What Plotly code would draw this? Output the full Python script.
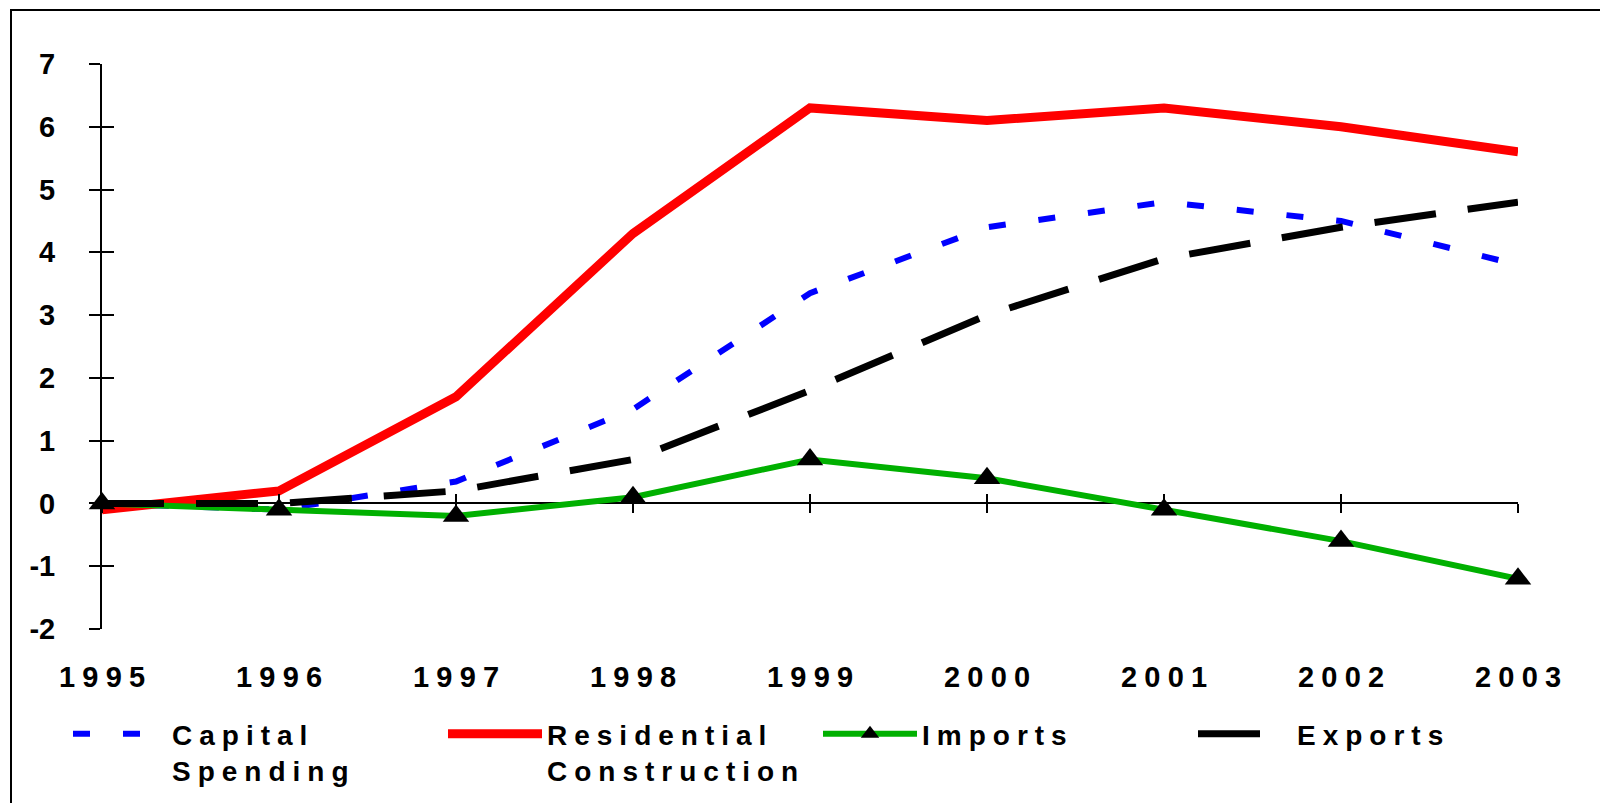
import plotly.graph_objects as go

# ---------------- data ----------------
years = [1995, 1996, 1997, 1998, 1999, 2000, 2001, 2002, 2003]
year_labels = ["1995", "1996", "1997", "1998", "1999", "2000", "2001", "2002", "2003"]
capital_spending = [0.0, -0.1, 0.35, 1.5, 3.35, 4.4, 4.8, 4.5, 3.8]
residential_construction = [-0.1, 0.2, 1.7, 4.3, 6.3, 6.1, 6.3, 6.0, 5.6]
imports = [0.0, -0.1, -0.2, 0.1, 0.7, 0.4, -0.1, -0.6, -1.2]
exports = [0.0, 0.0, 0.2, 0.7, 1.8, 3.0, 3.9, 4.4, 4.8]
y_tick_values = [-2, -1, 0, 1, 2, 3, 4, 5, 6, 7]
y_tick_labels = ["-2", "-1", "0", "1", "2", "3", "4", "5", "6", "7"]
series_names = [["Capital", "Spending"], ["Residential", "Construction"], ["Imports"], ["Exports"]]

# ---------------- styling helpers ----------------
SP = "\u2005"  # letter spacing


def spaced(word, sep=SP):
    return sep.join(list(word))


def spaced_lines(lines):
    return "<br>".join(spaced(w) for w in lines)


FONT = "Liberation Sans, Arial, sans-serif"
W, H = 1600, 803
ML, MR, MT, MB = 102, 82, 64, 174
PW, PH = W - ML - MR, H - MT - MB
YMIN, YMAX = y_tick_values[0], y_tick_values[-1]


def px_to_paper_x(px):
    return (px - ML) / PW


def px_to_paper_y(py):
    return (H - MB - py) / PH


fig = go.Figure()

fig.add_trace(go.Scatter(
    x=years, y=capital_spending, name=spaced_lines(series_names[0]), mode="lines",
    line=dict(color="#0000FF", width=6, dash="17px,33px"), cliponaxis=False))
fig.add_trace(go.Scatter(
    x=years, y=residential_construction, name=spaced_lines(series_names[1]), mode="lines",
    line=dict(color="#FF0000", width=9), cliponaxis=False))
fig.add_trace(go.Scatter(
    x=years, y=imports, name=spaced_lines(series_names[2]), mode="lines+markers",
    line=dict(color="#00B000", width=6),
    marker=dict(symbol="triangle-up", size=23, color="black", line=dict(width=0)),
    cliponaxis=False))
fig.add_trace(go.Scatter(
    x=years, y=exports, name=spaced_lines(series_names[3]), mode="lines",
    line=dict(color="black", width=7, dash="62px,32px"), cliponaxis=False))

# empty helper traces so the overlay axes (crossing tick marks) are drawn
fig.add_trace(go.Scatter(x=[], y=[], xaxis="x2", yaxis="y", showlegend=False, hoverinfo="skip"))
fig.add_trace(go.Scatter(x=[], y=[], xaxis="x3", yaxis="y", showlegend=False, hoverinfo="skip"))
fig.add_trace(go.Scatter(x=[], y=[], xaxis="x", yaxis="y2", showlegend=False, hoverinfo="skip"))

zero_pos = (0 - YMIN) / (YMAX - YMIN)
tickfont = dict(family=FONT, size=29, color="black", weight="bold")

cross_x = dict(range=[years[0], years[-1]], overlaying="x", anchor="free", position=zero_pos,
               tickmode="array", tickvals=years, ticklen=9, tickwidth=2,
               tickcolor="black", showticklabels=False, showline=False, showgrid=False,
               zeroline=False, automargin=False)

fig.update_layout(
    template="none",
    width=W, height=H,
    margin=dict(l=ML, r=MR, t=MT, b=MB, pad=0, autoexpand=False),
    paper_bgcolor="white", plot_bgcolor="white",
    showlegend=True,
    hovermode=False,
    xaxis=dict(range=[years[0], years[-1]], tickmode="array", tickvals=years,
               ticktext=[spaced(t) for t in year_labels], ticks="", showline=False,
               showgrid=False, zeroline=False, tickfont=tickfont, ticklabelstandoff=28,
               automargin=False),
    xaxis2=dict(cross_x, ticks="outside"),
    xaxis3=dict(cross_x, ticks="inside"),
    yaxis=dict(range=[YMIN, YMAX], tickmode="array", tickvals=y_tick_values,
               ticktext=y_tick_labels, ticks="outside", ticklen=11,
               tickwidth=2, tickcolor="black", showline=True, linewidth=2, linecolor="black",
               showgrid=False, zeroline=True, zerolinewidth=2, zerolinecolor="black",
               tickfont=tickfont, ticklabelstandoff=28, automargin=False),
    yaxis2=dict(range=[YMIN, YMAX], overlaying="y", anchor="x", side="left",
                tickmode="array", tickvals=y_tick_values, ticks="inside", ticklen=12,
                tickwidth=2, tickcolor="black", showticklabels=False, showline=False,
                showgrid=False, zeroline=False, automargin=False),
    legend=dict(orientation="h", x=px_to_paper_x(68), xanchor="left",
                y=px_to_paper_y(709), yanchor="top", valign="top",
                font=dict(family=FONT, size=28, color="black", weight="bold"),
                itemwidth=94, entrywidth=266, entrywidthmode="pixels",
                bgcolor="rgba(0,0,0,0)", borderwidth=0, traceorder="normal"),
    shapes=[dict(type="rect", xref="paper", yref="paper",
                 x0=px_to_paper_x(11), x1=px_to_paper_x(1700),
                 y0=px_to_paper_y(900), y1=px_to_paper_y(10),
                 line=dict(color="black", width=2), fillcolor="rgba(0,0,0,0)", layer="above")],
)

fig.write_html("out.html",
               config={"displayModeBar": False, "staticPlot": True},
               post_script="document.body.style.margin='0px';document.body.style.overflow='hidden';")
